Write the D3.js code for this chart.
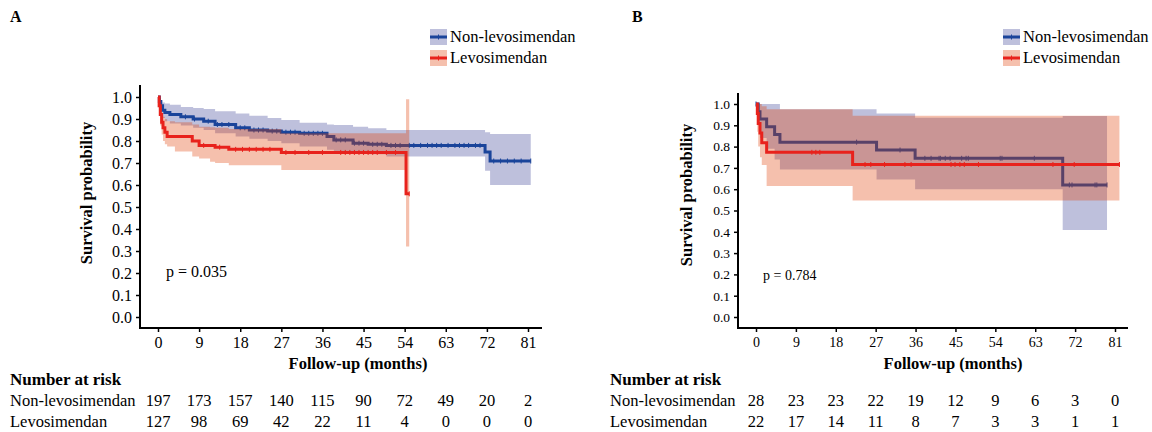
<!DOCTYPE html>
<html>
<head>
<meta charset="utf-8">
<script src="https://cdn.jsdelivr.net/npm/d3@7"></script>
<style>
  body { margin: 0; background: #fff; }
  svg { display: block; font-family: "Liberation Serif", "Times New Roman", serif; }
</style>
</head>
<body>
<svg id="chart" width="1152" height="432"></svg>
<script>
// follow-up tick marks and number at risk
const riskTimes = [0, 9, 18, 27, 36, 45, 54, 63, 72, 81];
const aRiskNon  = [197, 173, 157, 140, 115, 90, 72, 49, 20, 2];
const aRiskLevo = [127, 98, 69, 42, 22, 11, 4, 0, 0, 0];
const bRiskNon  = [28, 23, 23, 22, 19, 12, 9, 6, 3, 0];
const bRiskLevo = [22, 17, 14, 11, 8, 7, 3, 3, 1, 1];
const yTicks = [0, 0.1, 0.2, 0.3, 0.4, 0.5, 0.6, 0.7, 0.8, 0.9, 1.0];

// Panel A, Non-levosimendan
const aNonTime  = [0, 0.3, 0.6, 1.0, 1.5, 2.6, 5.0, 7.7, 10, 12.5, 17, 20, 24, 27, 31, 37, 38.5, 42.7, 46, 50, 71.6, 72.7];
const aNonSurv  = [1, 0.98, 0.96, 0.94, 0.93, 0.92, 0.91, 0.90, 0.89, 0.875, 0.86, 0.85, 0.845, 0.84, 0.835, 0.82, 0.805, 0.79, 0.785, 0.78, 0.75, 0.709];
const aNonUpper = [1, 0.995, 0.985, 0.975, 0.97, 0.965, 0.955, 0.95, 0.945, 0.935, 0.925, 0.915, 0.905, 0.895, 0.883, 0.875, 0.873, 0.865, 0.858, 0.85, 0.84, 0.832];
const aNonLower = [1, 0.96, 0.93, 0.905, 0.89, 0.88, 0.87, 0.86, 0.85, 0.835, 0.82, 0.81, 0.80, 0.79, 0.775, 0.76, 0.755, 0.745, 0.74, 0.73, 0.665, 0.60];
const aNonEnd = 81.6;
const aNonCensor = [6, 8, 11, 13, 14, 15.5, 18, 19, 21, 22, 23, 25, 26, 28, 29, 30, 32, 33, 34, 35, 36, 39, 40, 41, 43, 44, 45, 47, 48, 49, 51, 52, 53, 55, 56, 57.5, 59, 60, 61, 62, 63.5, 65, 66, 67, 68, 69.5, 70.5, 73.5, 75, 76.5, 78, 79.5, 81.6];

// Panel A, Levosimendan
const aLevoTime  = [0, 0.25, 0.5, 0.8, 1.1, 1.5, 2.0, 3.7, 7.5, 9.0, 11.4, 12.5, 15.5, 27, 54.3];
const aLevoSurv  = [1, 0.96, 0.92, 0.885, 0.86, 0.84, 0.82, 0.82, 0.80, 0.78, 0.78, 0.772, 0.762, 0.748, 0.56];
const aLevoUpper = [1, 0.99, 0.96, 0.93, 0.91, 0.90, 0.89, 0.885, 0.875, 0.865, 0.862, 0.86, 0.855, 0.835, 0.99];
const aLevoLower = [1, 0.92, 0.87, 0.83, 0.80, 0.785, 0.775, 0.752, 0.73, 0.72, 0.706, 0.70, 0.69, 0.668, 0.32];
const aLevoEnd = 55;
const aLevoCensor = [10, 13.5, 17, 18.5, 20, 21.5, 23, 24.5, 28, 30, 33, 36, 40, 41, 42, 43, 44, 45, 46, 47, 48, 50, 52, 55];

// Panel B, Non-levosimendan
const bNonTime  = [0, 0.5, 0.9, 2.4, 4.2, 5.4, 27.2, 35.9, 69.2];
const bNonSurv  = [1, 0.964, 0.929, 0.893, 0.857, 0.821, 0.784, 0.745, 0.62];
const bNonUpper = [1, 1, 1, 1, 1, 0.975, 0.955, 0.935, 0.944];
const bNonLower = [1, 0.9, 0.84, 0.79, 0.74, 0.693, 0.645, 0.60, 0.408];
const bNonEnd = 79.2;
const bNonCensor = [0, 22.7, 32.5, 38.1, 39.5, 41.3, 41.6, 42.7, 43.8, 46.4, 47.4, 47.9, 55.1, 55.5, 62.8, 70.7, 71.3, 76.5, 76.9, 79.2];

// Panel B, Levosimendan
const bLevoTime  = [0, 0.3, 0.5, 0.9, 1.3, 2.4, 21.8];
const bLevoSurv  = [1, 0.955, 0.909, 0.864, 0.818, 0.773, 0.716];
const bLevoUpper = [1, 1, 1, 1, 0.99, 0.975, 0.945];
const bLevoLower = [1, 0.87, 0.80, 0.75, 0.714, 0.615, 0.547];
const bLevoEnd = 82;
const bLevoCensor = [12.6, 13.5, 14.4, 24.6, 25.9, 29, 33.6, 35, 44, 44.9, 46, 47, 50.2, 67, 71.8, 82];

const colors = {
    nonLine: "#1a449a", nonBand: "#28308c",
    levoLine: "#e8221c", levoBand: "#e03c00"
};
const nonOpacity = 0.3;
const levoOpacity = 0.32;

var svg = d3.select("#chart");

function toPoints(time, surv, upper, lower, end) {
    const pts = time.map((t, i) => ({ t: t, s: surv[i], u: upper[i], l: lower[i] }));
    const last = pts[pts.length - 1];
    pts.push({ t: end, s: last.s, u: last.u, l: last.l });
    return pts;
}

function survAt(points, t) {
    const i = Math.max(0, d3.bisectRight(points.map(q => q.t), t) - 1);
    return points[i].s;
}

function drawPanel(p) {
    var x = d3.scaleLinear().domain([0, 81]).range(p.xRange);
    var y = d3.scaleLinear().domain([0, 1]).range(p.yRange);
    var g = svg.append("g");

    // panel letter
    g.append("text")
        .attr("x", p.letterX).attr("y", 22)
        .style("font-weight", "bold").style("font-size", "16px")
        .text(p.letter);

    // bands and curves
    var area = d3.area()
        .x(d => x(d.t)).y0(d => y(d.l)).y1(d => y(d.u))
        .curve(d3.curveStepAfter);
    var line = d3.line()
        .x(d => x(d.t)).y(d => y(d.s))
        .curve(d3.curveStepAfter);

    p.series.forEach(s => {
        g.append("path")
            .datum(s.points)
            .attr("d", area)
            .attr("fill", s.band)
            .attr("fill-opacity", s.opacity);
        g.append("path")
            .datum(s.points)
            .attr("d", line)
            .attr("fill", "none")
            .attr("stroke", s.line)
            .attr("stroke-width", 3);
        // censor marks
        g.selectAll(null)
            .data(s.censor)
            .enter()
            .append("line")
            .attr("x1", d => x(d)).attr("x2", d => x(d))
            .attr("y1", d => y(survAt(s.points, d)) - 2.5)
            .attr("y2", d => y(survAt(s.points, d)) + 2.5)
            .attr("stroke", s.line)
            .attr("stroke-width", 1);
    });

    // y axis
    var yAxis = g.append("g")
        .attr("transform", `translate(${p.axisX},0)`)
        .call(d3.axisLeft(y).tickValues(yTicks).tickFormat(d3.format(".1f")).tickSize(4).tickPadding(4));
    yAxis.select(".domain").remove();
    yAxis.selectAll(".tick line").attr("stroke-width", 1.5);
    yAxis.selectAll("text")
        .style("font-size", p.yTickSize)
        .style("font-family", "Liberation Serif")
        .attr("fill", "black");
    g.append("line")
        .attr("x1", p.axisX).attr("x2", p.axisX)
        .attr("y1", p.axisTop).attr("y2", p.axisY + 1)
        .attr("stroke", "black").attr("stroke-width", 2);

    // x axis
    var xAxis = g.append("g")
        .attr("transform", `translate(0,${p.axisY})`)
        .call(d3.axisBottom(x).tickValues(riskTimes).tickSize(4).tickPadding(5));
    xAxis.select(".domain").remove();
    xAxis.selectAll(".tick line").attr("stroke-width", 1.5);
    xAxis.selectAll("text")
        .style("font-size", p.xTickSize)
        .style("font-family", "Liberation Serif")
        .attr("fill", "black");
    g.append("line")
        .attr("x1", p.axisX - 1).attr("x2", p.axisRight)
        .attr("y1", p.axisY).attr("y2", p.axisY)
        .attr("stroke", "black").attr("stroke-width", 2);

    // axis titles
    g.append("text")
        .attr("transform", `translate(${p.yLabelX},${p.yLabelY}) rotate(-90)`)
        .attr("text-anchor", "middle")
        .style("font-weight", "bold").style("font-size", "16.5px")
        .text("Survival probability");
    g.append("text")
        .attr("x", p.xLabelX).attr("y", 369)
        .attr("text-anchor", "middle")
        .style("font-weight", "bold").style("font-size", "16.5px")
        .text("Follow-up (months)");

    // p value
    g.append("text")
        .attr("x", p.pX).attr("y", p.pY)
        .style("font-size", p.pSize)
        .text(p.pText);

    // legend
    const legend = g.selectAll(".legend")
        .data(p.series)
        .enter()
        .append("g")
        .attr("class", "legend")
        .attr("transform", (d, i) => `translate(${p.legendX}, ${29 + i * 21})`);
    legend.append("rect")
        .attr("width", 17).attr("height", 16)
        .attr("fill", d => d.band)
        .attr("fill-opacity", d => d.opacity);
    legend.append("line")
        .attr("x1", 0).attr("x2", 17).attr("y1", 8).attr("y2", 8)
        .attr("stroke", d => d.line).attr("stroke-width", 3);
    legend.append("line")
        .attr("x1", 8.5).attr("x2", 8.5).attr("y1", 5.5).attr("y2", 10.5)
        .attr("stroke", d => d.line).attr("stroke-width", 1);
    legend.append("text")
        .attr("x", 20).attr("y", 13)
        .style("font-size", "16.5px")
        .text(d => d.name);

    // number at risk table
    g.append("text")
        .attr("x", p.tableX).attr("y", 385)
        .style("font-weight", "bold").style("font-size", "17px")
        .text("Number at risk");
    p.series.forEach((s, i) => {
        const rowY = 406 + i * 21;
        g.append("text")
            .attr("x", p.tableX).attr("y", rowY)
            .style("font-size", "16.5px")
            .text(s.name);
        g.selectAll(null)
            .data(s.risk)
            .enter()
            .append("text")
            .attr("x", (d, j) => x(riskTimes[j]))
            .attr("y", rowY)
            .attr("text-anchor", "middle")
            .style("font-size", "16.5px")
            .text(d => d);
    });
}

drawPanel({
    letter: "A", letterX: 10,
    xRange: [158, 528], yRange: [317, 97],
    axisX: 140, axisY: 328, axisTop: 85, axisRight: 542,
    yTickSize: "16px", xTickSize: "16px",
    yLabelX: 92, yLabelY: 193, xLabelX: 358,
    pX: 166, pY: 277, pSize: "16px", pText: "p = 0.035",
    legendX: 430, tableX: 10,
    series: [
        { name: "Non-levosimendan", line: colors.nonLine, band: colors.nonBand, opacity: nonOpacity,
          points: toPoints(aNonTime, aNonSurv, aNonUpper, aNonLower, aNonEnd),
          censor: aNonCensor, risk: aRiskNon },
        { name: "Levosimendan", line: colors.levoLine, band: colors.levoBand, opacity: levoOpacity,
          points: toPoints(aLevoTime, aLevoSurv, aLevoUpper, aLevoLower, aLevoEnd),
          censor: aLevoCensor, risk: aRiskLevo }
    ]
});

drawPanel({
    letter: "B", letterX: 632,
    xRange: [756, 1115], yRange: [317, 104],
    axisX: 738, axisY: 328, axisTop: 93, axisRight: 1128,
    yTickSize: "13.5px", xTickSize: "14px",
    yLabelX: 692, yLabelY: 195, xLabelX: 953,
    pX: 763, pY: 280, pSize: "14px", pText: "p = 0.784",
    legendX: 1003, tableX: 610,
    series: [
        { name: "Non-levosimendan", line: colors.nonLine, band: colors.nonBand, opacity: nonOpacity,
          points: toPoints(bNonTime, bNonSurv, bNonUpper, bNonLower, bNonEnd),
          censor: bNonCensor, risk: bRiskNon },
        { name: "Levosimendan", line: colors.levoLine, band: colors.levoBand, opacity: levoOpacity,
          points: toPoints(bLevoTime, bLevoSurv, bLevoUpper, bLevoLower, bLevoEnd),
          censor: bLevoCensor, risk: bRiskLevo }
    ]
});
</script>
</body>
</html>
